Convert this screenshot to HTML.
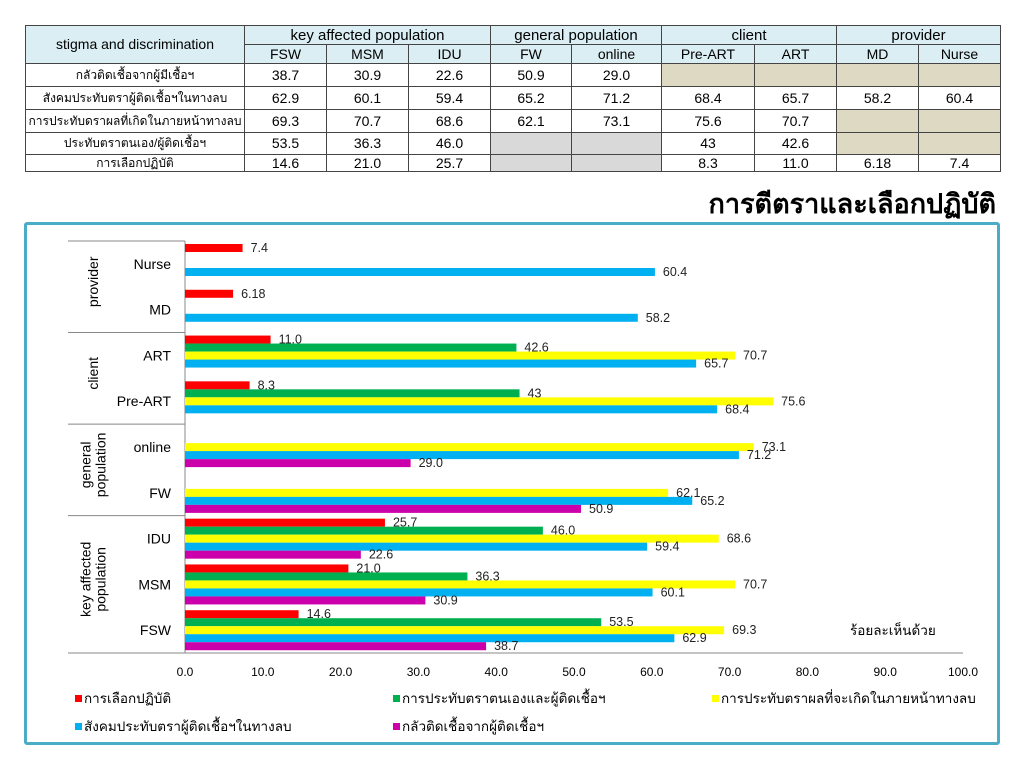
<!DOCTYPE html>
<html><head><meta charset="utf-8">
<style>
body{margin:0;width:1024px;height:768px;background:#fff;font-family:"Liberation Sans","Noto Sans CJK SC",sans-serif;overflow:hidden;position:relative}
table{position:absolute;left:25px;top:25px;border-collapse:collapse;font-size:13px;table-layout:fixed}
td{border:1px solid #444;text-align:center;padding:0;height:22px;line-height:20px;font-size:14px;white-space:nowrap;overflow:hidden}
tr.h td{background:#daeef3;height:18px;line-height:17px}
tr.r4 td{height:21px;line-height:19px}
tr.r5 td{height:16px;line-height:15px}
td.tan{background:#ddd9c3}td.gr{background:#d9d9d9}
td.lab{font-size:12px}
#title{position:absolute;right:28px;top:182px;font-size:27px;font-weight:bold;font-family:"Liberation Sans","Noto Sans CJK SC",sans-serif}
#frame{position:absolute;left:24px;top:222px;width:970px;height:517px;border:3.5px solid #4bacc6;border-radius:3px}
svg{position:absolute;left:0;top:0}
</style></head><body>
<table>
<colgroup><col style="width:219px"><col style="width:82px"><col style="width:82px"><col style="width:82px"><col style="width:81px"><col style="width:90px"><col style="width:93px"><col style="width:82px"><col style="width:82px"><col style="width:82px"></colgroup>
<tr class="h"><td rowspan="2">stigma and discrimination</td><td colspan="3" style="font-size:15px">key affected population</td><td colspan="2" style="font-size:15px">general population</td><td colspan="2" style="font-size:15px">client</td><td colspan="2" style="font-size:15px">provider</td></tr>
<tr class="h"><td>FSW</td><td>MSM</td><td>IDU</td><td>FW</td><td>online</td><td>Pre-ART</td><td>ART</td><td>MD</td><td>Nurse</td></tr>
<tr><td class="lab">กลัวติดเชื้อจากผู้มีเชื้อฯ</td><td>38.7</td><td>30.9</td><td>22.6</td><td>50.9</td><td>29.0</td><td class="tan"></td><td class="tan"></td><td class="tan"></td><td class="tan"></td></tr>
<tr><td class="lab">สังคมประทับตราผู้ติดเชื้อฯในทางลบ</td><td>62.9</td><td>60.1</td><td>59.4</td><td>65.2</td><td>71.2</td><td>68.4</td><td>65.7</td><td>58.2</td><td>60.4</td></tr>
<tr><td class="lab">การประทับดราผลที่เกิดในภายหน้าทางลบ</td><td>69.3</td><td>70.7</td><td>68.6</td><td>62.1</td><td>73.1</td><td>75.6</td><td>70.7</td><td class="tan"></td><td class="tan"></td></tr>
<tr class="r4"><td class="lab">ประทับตราตนเอง/ผู้ติดเชื้อฯ</td><td>53.5</td><td>36.3</td><td>46.0</td><td class="gr"></td><td class="gr"></td><td>43</td><td>42.6</td><td class="tan"></td><td class="tan"></td></tr>
<tr class="r5"><td class="lab">การเลือกปฏิบัติ</td><td>14.6</td><td>21.0</td><td>25.7</td><td class="gr"></td><td class="gr"></td><td>8.3</td><td>11.0</td><td>6.18</td><td>7.4</td></tr>
</table>
<div id="title">การตีตราและเลือกปฏิบัติ</div>
<div id="frame"></div>
<svg id="chart" width="1024" height="768"></svg>
<script>
const categories=["FSW","MSM","IDU","FW","online","Pre-ART","ART","MD","Nurse"];
const seriesNames=["การเลือกปฏิบัติ","การประทับตราตนเองและผู้ติดเชื้อฯ","การประทับตราผลที่จะเกิดในภายหน้าทางลบ","สังคมประทับตราผู้ติดเชื้อฯในทางลบ","กลัวติดเชื้อจากผู้ติดเชื้อฯ"];
const discrimination=[14.6,21.0,25.7,null,null,8.3,11.0,6.18,7.4];
const selfStigma=[53.5,36.3,46.0,null,null,43,42.6,null,null];
const consequences=[69.3,70.7,68.6,62.1,73.1,75.6,70.7,null,null];
const society=[62.9,60.1,59.4,65.2,71.2,68.4,65.7,58.2,60.4];
const fear=[38.7,30.9,22.6,50.9,29.0,null,null,null,null];
const labelsText=[["14.6","21.0","25.7","","","8.3","11.0","6.18","7.4"],["53.5","36.3","46.0","","","43","42.6","",""],["69.3","70.7","68.6","62.1","73.1","75.6","70.7","",""],["62.9","60.1","59.4","65.2","71.2","68.4","65.7","58.2","60.4"],["38.7","30.9","22.6","50.9","29.0","","","",""]];
const ticks=[0,10,20,30,40,50,60,70,80,90,100];
const groups=[{name:["key affected","population"],from:0,to:3},{name:["general","population"],from:3,to:5},{name:["client"],from:5,to:7},{name:["provider"],from:7,to:9}];
const colors=["#ff0000","#00b050","#ffff00","#00b0f0","#cc00aa"];
const allSeries=[discrimination,selfStigma,consequences,society,fear];
const svg=document.getElementById('chart');const NS='http://www.w3.org/2000/svg';
const X0=185,X1=963,YB=653,YT=241;const band=(YB-YT)/categories.length;
const x=v=>X0+(X1-X0)*v/100;
const yBand=i=>YB-(i+1)*band;
function mk(t,a,txt){const e=document.createElementNS(NS,t);for(const k in a)e.setAttribute(k,a[k]);if(txt!==undefined)e.textContent=txt;svg.appendChild(e);return e;}
let e=mk('line',{x1:X0,y1:YT,x2:X0,y2:YB,stroke:'#888'});


e=mk('line',{x1:X0,y1:YB,x2:X1,y2:YB,stroke:'#888'});


ticks.forEach(t=>{const el=mk('text',{x:x(t),y:676,'text-anchor':'middle','font-size':12},t.toFixed(1));

});
categories.forEach((c,i)=>{const el=mk('text',{x:171,y:yBand(i)+band/2+5,'text-anchor':'end','font-size':14},c);

});
groups.forEach(g=>{const yTop=yBand(g.to-1),yBot=yBand(g.from)+band;
const l=mk('line',{x1:68,y1:yBot,x2:X0,y2:yBot,stroke:'#888'});


if(g.to===categories.length){const l2=mk('line',{x1:68,y1:yTop,x2:X0,y2:yTop,stroke:'#888'});

}
const cy=(yTop+yBot)/2,cx=98;const n=g.name.length;
g.name.forEach((s,k)=>{const el=mk('text',{x:cx+(k-(n-1)/2)*15+5,y:cy,'text-anchor':'middle','font-size':14,transform:`rotate(-90 ${cx+(k-(n-1)/2)*15} ${cy})`},s);

});});
allSeries.forEach((s,si)=>{s.forEach((v,i)=>{if(v===null)return;const y=yBand(i)+3+si*8;
const r=mk('rect',{x:X0,y:y,width:x(v)-X0,height:8,fill:colors[si]});


const t=mk('text',{x:x(v)+8,y:y+8,'font-size':12.5,fill:'#222'},labelsText[si][i]);

});});
const unit=mk('text',{x:850,y:635,'font-size':13.5},'ร้อยละเห็นด้วย');


const lp=[[75,700],[393,700],[712,700],[75,728],[393,728]];
seriesNames.forEach((n,i)=>{const r=mk('rect',{x:lp[i][0],y:lp[i][1]-5,width:7,height:7,fill:colors[i]});


const t=mk('text',{x:lp[i][0]+9,y:lp[i][1]+3,'font-size':13.5},n);

});
</script>
</body></html>
